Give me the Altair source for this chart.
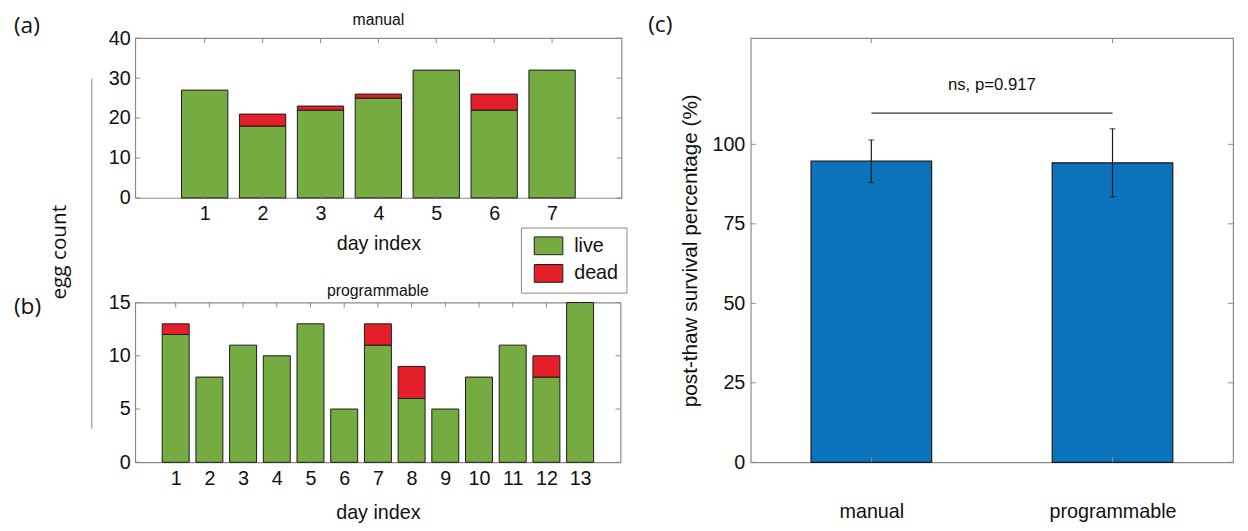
import altair as alt
import pandas as pd

# ---------------- data ----------------
days_a = [1, 2, 3, 4, 5, 6, 7]
live_a = [27, 18, 22, 25, 32, 22, 32]
dead_a = [0, 3, 1, 1, 0, 4, 0]

days_b = [1, 2, 3, 4, 5, 6, 7, 8, 9, 10, 11, 12, 13]
live_b = [12, 8, 11, 10, 13, 5, 11, 6, 5, 8, 11, 8, 15]
dead_b = [1, 0, 0, 0, 0, 0, 2, 3, 0, 0, 0, 2, 0]

yticks_a = [0, 10, 20, 30, 40]
yticks_b = [0, 5, 10, 15]

groups_c = ["manual", "programmable"]
pos_c = [1, 2]
mean_c = [94.7, 94.2]
lo_c = [88.0, 83.5]
hi_c = [101.4, 104.9]
yticks_c = [0, 25, 50, 75, 100]
sig_label = "ns, p=0.917"
sig_y = [109.8]
sig_text_y = [118.6]

GREEN = "#76AB41"
RED = "#E51F29"
BLUE = "#0C72BA"
EDGE = "#1a1a1a"
GRAY = "#8a8a8a"
FONT = "Liberation Sans"
FONT2 = "Open Sans"


def stacked_df(days, live, dead):
    rows = []
    for d, l, k in zip(days, live, dead):
        rows.append({"day": d, "status": "live", "lo": 0, "hi": l})
        if k > 0:
            rows.append({"day": d, "status": "dead", "lo": l, "hi": l + k})
    return pd.DataFrame(rows)


def inner_ticks(xvals, yvals, xs, ys, ax, ay, W, H, L=5):
    xt = pd.DataFrame({"v": xvals})
    yt = pd.DataFrame({"v": yvals})
    layers = []
    for y0, y1 in [(H, H - L), (0, L)]:
        layers.append(alt.Chart(xt).mark_rule(color=GRAY, strokeWidth=1).encode(
            x=alt.X("v:Q", scale=xs, axis=ax), y=alt.value(y0), y2=alt.value(y1)))
    for x0, x1 in [(0, L), (W - L, W)]:
        layers.append(alt.Chart(yt).mark_rule(color=GRAY, strokeWidth=1).encode(
            y=alt.Y("v:Q", scale=ys, axis=ay), x=alt.value(x0), x2=alt.value(x1)))
    return layers


def text_at(txt, x, y, size, font=FONT2, angle=0, align="left"):
    return alt.Chart(pd.DataFrame({"t": [txt]})).mark_text(
        font=font, fontSize=size, color="#111", align=align, baseline="middle", angle=angle
    ).encode(text="t:N", x=alt.value(x), y=alt.value(y))


def stacked_panel(days, live, dead, W, H, xdom, ydom, yticks, title, title_y,
                  title_pad, show_legend, extra):
    df = stacked_df(days, live, dead)
    xs = alt.Scale(domain=xdom, nice=False, zero=False)
    ys = alt.Scale(domain=ydom, nice=False)
    ax = alt.Axis(values=days, title="day index", labelPadding=6, titlePadding=title_pad,
                  titleFontSize=20)
    ay = alt.Axis(values=yticks, title=None, labelPadding=5)
    if show_legend:
        leg = alt.Legend(
            title=None, orient="none", legendX=391, legendY=192, direction="vertical",
            symbolType="M-0.5,-0.9L2.4,-0.9L2.4,0.9L-0.5,0.9Z", symbolSize=400,
            symbolStrokeColor=EDGE, symbolStrokeWidth=1, symbolOpacity=1,
            labelFont=FONT, labelFontSize=20, labelColor="#111", labelOffset=25,
            rowPadding=5, padding=8, strokeColor=GRAY, fillColor="white")
    else:
        leg = None
    bars = alt.Chart(df).transform_calculate(
        x0="datum.day - 0.4", x1="datum.day + 0.4"
    ).mark_bar(stroke=EDGE, strokeWidth=1, opacity=1).encode(
        x=alt.X("x0:Q", scale=xs, axis=ax),
        x2="x1:Q",
        y=alt.Y("lo:Q", scale=ys, axis=ay),
        y2="hi:Q",
        color=alt.Color("status:N", scale=alt.Scale(domain=["live", "dead"], range=[GREEN, RED]),
                        legend=leg),
    )
    title_mark = text_at(title, W / 2, title_y, 16, font=FONT, align="center")
    layers = [bars] + inner_ticks(days, yticks, xs, ys, ax, ay, W, H) + [title_mark] + extra
    return alt.layer(*layers).properties(width=W, height=H)


Wa, Ha = 493, 162
Wb, Hb = 492, 162
Wc, Hc = 489, 430

extra_a = [
    text_at("(a)", -123, -12, 23),
    text_at("egg count", -76, 217, 21, angle=270, align="center"),
    alt.Chart(pd.DataFrame({"t": [0]})).mark_rule(color=GRAY, strokeWidth=1).encode(
        x=alt.value(-44), y=alt.value(41), y2=alt.value(396)),
]
extra_b = [text_at("(b)", -123, 5, 23)]

panel_a = stacked_panel(days_a, live_a, dead_a, Wa, Ha, [-0.2, 8.2], [0, 40], yticks_a,
                        "manual", -18, 10, True, extra_a)
panel_b = stacked_panel(days_b, live_b, dead_b, Wb, Hb, [-0.2, 14.2], [0, 15], yticks_b,
                        "programmable", -12, 15, False, extra_b)

# ---------------- panel c ----------------
dfc = pd.DataFrame({"pos": pos_c, "group": groups_c, "mean": mean_c, "lo": lo_c, "hi": hi_c})
xsc = alt.Scale(domain=[0.5, 2.5], nice=False, zero=False)
ysc = alt.Scale(domain=[0, 133.4], nice=False)
label_expr = "[" + ",".join("'%s'" % g for g in groups_c) + "][datum.value - 1]"
axc = alt.Axis(values=pos_c, labelExpr=label_expr, title=None, labelPadding=40)
ayc = alt.Axis(values=yticks_c, labelPadding=6, titlePadding=12,
               title="post-thaw survival percentage (%)")

bars_c = alt.Chart(dfc).transform_calculate(
    x0="datum.pos - 0.25", x1="datum.pos + 0.25"
).mark_bar(color=BLUE, stroke=EDGE, strokeWidth=1.2).encode(
    x=alt.X("x0:Q", scale=xsc, axis=axc),
    x2="x1:Q",
    y=alt.Y("mean:Q", scale=ysc, axis=ayc),
    y2=alt.datum(0),
)
err_c = alt.Chart(dfc).mark_rule(color=EDGE, strokeWidth=1.2).encode(
    x=alt.X("pos:Q", scale=xsc, axis=axc), y=alt.Y("lo:Q", scale=ysc, axis=ayc), y2="hi:Q")
cap_lo = alt.Chart(dfc).mark_tick(color=EDGE, orient="horizontal", size=6, thickness=1.2).encode(
    x=alt.X("pos:Q", scale=xsc, axis=axc), y=alt.Y("lo:Q", scale=ysc, axis=ayc))
cap_hi = alt.Chart(dfc).mark_tick(color=EDGE, orient="horizontal", size=6, thickness=1.2).encode(
    x=alt.X("pos:Q", scale=xsc, axis=axc), y=alt.Y("hi:Q", scale=ysc, axis=ayc))
sig_df = pd.DataFrame({"xa": [pos_c[0]], "xb": [pos_c[1]], "y": sig_y,
                       "xm": [(pos_c[0] + pos_c[1]) / 2], "ty": sig_text_y, "t": [sig_label]})
sig_line = alt.Chart(sig_df).mark_rule(color="#333", strokeWidth=1.3).encode(
    x=alt.X("xa:Q", scale=xsc, axis=axc), x2="xb:Q", y=alt.Y("y:Q", scale=ysc, axis=ayc))
sig_txt = alt.Chart(sig_df).mark_text(font=FONT, fontSize=17, color="#111", baseline="middle").encode(
    x=alt.X("xm:Q", scale=xsc, axis=axc), y=alt.Y("ty:Q", scale=ysc, axis=ayc), text="t:N")

panel_c = alt.layer(
    bars_c, *inner_ticks(pos_c, yticks_c, xsc, ysc, axc, ayc, Wc, Hc), err_c, cap_lo, cap_hi,
    sig_line, sig_txt, text_at("(c)", -104, -13, 23)
).properties(width=Wc, height=Hc)

left = alt.vconcat(panel_a, panel_b, spacing=106, bounds="flush").resolve_scale(color="independent")
chart = alt.hconcat(left, panel_c, spacing=19).properties(
    padding={"left": 5, "top": 0, "right": 5, "bottom": 0}
).configure_view(
    stroke=GRAY, strokeWidth=1.2
).configure_axis(
    labelFont=FONT, labelFontSize=20, labelColor="#111", titleFont=FONT, titleFontSize=21,
    titleFontWeight="normal", titleColor="#111", ticks=False, domain=False, grid=False
)

chart.save("out.html", embed_options={"renderer": "svg", "actions": False})
